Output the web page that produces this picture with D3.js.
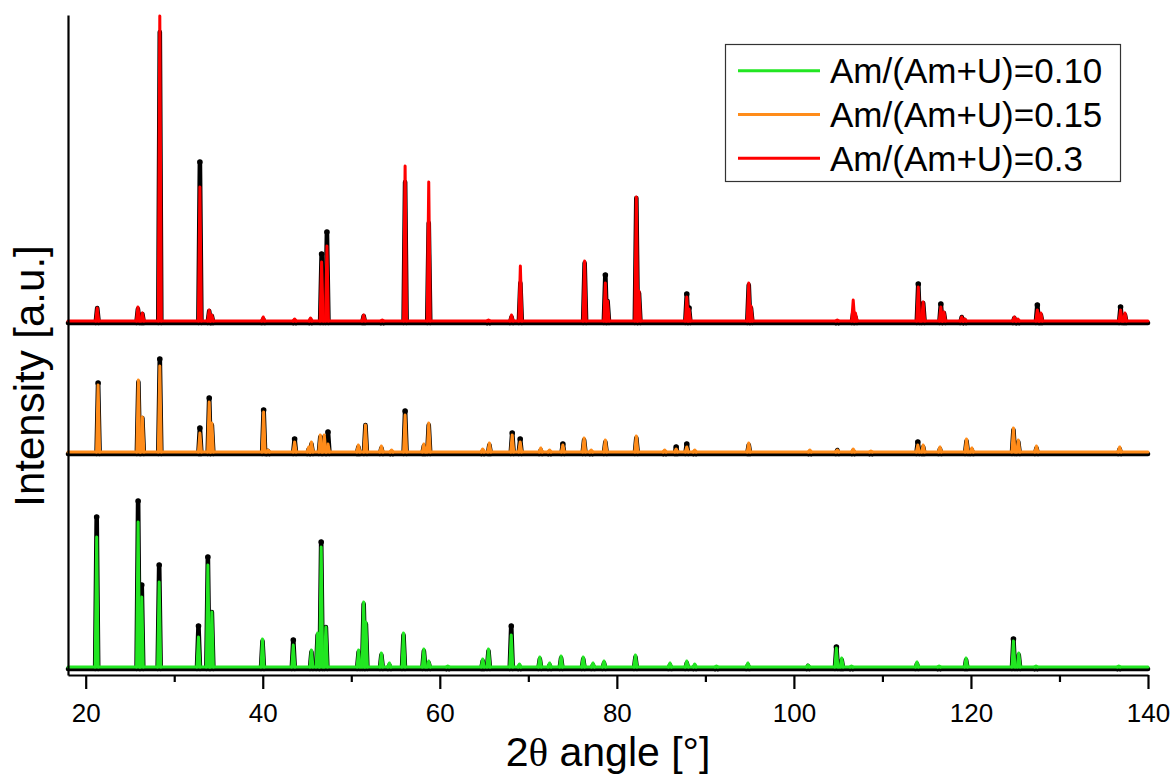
<!DOCTYPE html>
<html><head><meta charset="utf-8">
<script src="https://cdn.jsdelivr.net/npm/d3@7"></script>
<style>body{margin:0;background:#fff}svg{display:block}</style>
</head><body><svg id="c" width="1172" height="775"></svg>
<script>
// ---------------- data ----------------
const seriesNames = ["Am/(Am+U)=0.10", "Am/(Am+U)=0.15", "Am/(Am+U)=0.3"];
const xTicks = [20, 40, 60, 80, 100, 120, 140];
const xMinorTicks = [30, 50, 70, 90, 110, 130];
// vertical offsets of each pattern (a.u.)
const calcBase = [8, 223, 354];
const obsBase = [6, 221, 352];
// peaks: [2theta, calculated height, observed height] above the baseline (a.u.)
const peaks010 = [
  [21.24,130,152],[25.92,145,168],[26.33,70,84],[28.3,85,104],[32.74,30,43],[33.8,102,112],[34.25,55,57],
  [39.97,28,28],[43.45,22,29],[45.5,17,17],[46.2,34,34],[46.6,120,127],[47.13,40,42],[50.83,17,17],
  [51.4,65,65],[51.65,45,45],[53.4,14,14],[54.3,4,4],[55.9,34,34],[58.2,18,18],[58.75,6,6],[60.9,1,1],
  [64.85,8,8],[65.5,18,18],[68.07,32,43],[69.0,3,3],[71.3,10,10],[72.4,4,4],[73.7,11,11],[76.2,10,10],
  [77.3,4,4],[78.55,6,6],[82.1,12,12],[86.0,4,4],[87.9,6,6],[88.8,3,3],[91.25,1,1],[94.8,4,4],
  [101.6,2,3],[104.8,19,22],[105.4,9,9],[106.5,1,1],[113.9,5,5],[116.4,1,1],[119.45,9,9],
  [124.8,26,30],[125.4,14,14],[127.35,1,1],[136.7,1,1]
];
const peaks015 = [
  [21.4,67,71],[25.95,72,72],[26.4,35,36],[28.37,86,95],[32.9,19,26],[33.95,50,56],[34.25,29,29],
  [40.1,40,44],[40.6,2,3],[43.6,10,15],[45.2,5,5],[45.5,10,10],[46.5,17,17],[46.95,17,17],[47.37,8,22],
  [50.8,7,7],[51.6,27,29],[53.4,6,6],[54.55,2,2],[56.08,37,43],[58.2,8,8],[58.75,29,29],
  [64.85,3,3],[65.6,9,9],[68.18,17,21],[69.08,10,15],[71.4,4,4],[72.4,2,2],[73.9,7,10],[76.3,14,14],
  [77.1,2,2],[78.7,12,12],[82.2,16,16],[85.4,2,2],[86.7,3,7],[87.9,5,10],[88.8,2,2],[94.9,9,9],
  [101.8,2,2],[104.9,2,4],[106.7,3,3],[108.7,1,1],[114.0,7,12],[114.6,7,7],[116.5,5,5],[119.5,13,13],
  [120.1,4,4],[124.8,24,24],[125.35,12,12],[127.4,6,6],[136.8,5,5]
];
const peaks030 = [
  [21.3,13,15],[25.9,14,14],[26.4,8,9],[28.37,305,291],[32.9,134,161],[33.95,11,12],[34.25,6,7],
  [40.05,4,4],[43.6,2,2],[45.4,3,3],[46.65,59,69],[47.25,75,91],[51.4,6,7],[53.5,1,1],
  [56.08,155,141],[58.75,139,100],[65.5,1,1],[68.1,6,6],[69.1,55,40],[76.36,60,60],[78.7,38,48],
  [78.95,20,22],[82.2,124,125],[82.5,30,30],[87.9,24,29],[88.15,12,15],[94.9,38,38],[95.15,15,15],
  [104.9,1,1],[106.7,21,10],[106.95,8,6],[114.05,34,39],[114.6,19,20],[116.6,14,19],[116.95,9,10],
  [118.96,4,6],[119.3,2,3],[124.9,4,5],[125.3,2,2],[127.5,11,18],[127.9,8,8],[136.9,11,16],[137.4,8,8]
];
const seriesPeaks = [peaks010, peaks015, peaks030];

// ---------------- styles ----------------
const colors = ["#22e622", "#ff8c1a", "#ff0000"];
const W = 1172, H = 775;
const svg = d3.select("#c");
svg.append("rect").attr("width", W).attr("height", H).attr("fill", "#fff");

const x = d3.scaleLinear().domain([18, 140]).range([68, 1148]);
const y = d3.scaleLinear().domain([0, 660]).range([675, 15]);
const hw = 0.17; // half base width of a peak in degrees
const line = d3.line().x(d => x(d[0])).y(d => y(d[1]));

const plot = svg.append("g");

function drawSeries(i) {
  const pk = seriesPeaks[i];
  const gS = plot.append("g");
  // observed (black)
  const obsPaths = [[[18, obsBase[i]], [140, obsBase[i]]]].concat(
    pk.map(p => [[p[0] - hw, obsBase[i]], [p[0], obsBase[i] + p[2]], [p[0] + hw, obsBase[i]]]));
  gS.selectAll("path.obs").data(obsPaths).join("path").attr("class", "obs")
    .attr("d", line).attr("fill", "none").attr("stroke", "#000")
    .attr("stroke-width", 4.6).attr("stroke-linejoin", "round").attr("stroke-linecap", "round");
  gS.selectAll("circle.obs").data(pk.filter(p => p[2] > p[1] + 2)).join("circle")
    .attr("class", "obs").attr("cx", d => x(d[0])).attr("cy", d => y(obsBase[i] + d[2]))
    .attr("r", 2.8).attr("fill", "#000");
  // calculated (coloured)
  const calcPaths = [[[18, calcBase[i]], [140, calcBase[i]]]].concat(
    pk.map(p => [[p[0] - hw, calcBase[i]], [p[0], calcBase[i] + p[1]], [p[0] + hw, calcBase[i]]]));
  gS.selectAll("path.calc").data(calcPaths).join("path").attr("class", "calc")
    .attr("d", line).attr("fill", "none").attr("stroke", colors[i])
    .attr("stroke-width", 3).attr("stroke-linejoin", "round").attr("stroke-linecap", "round");
}
[0, 1, 2].forEach(drawSeries);

// ---------------- axes ----------------
const font = "'Liberation Sans', Arial, sans-serif";
const xAxis = d3.axisBottom(x).tickValues(xTicks).tickSize(14).tickSizeOuter(0).tickFormat(d3.format("d"));
const gx = svg.append("g").attr("transform", "translate(0,675)").call(xAxis);
gx.select(".domain").attr("stroke-width", 2.2);
gx.selectAll(".tick line").attr("stroke-width", 2.2);
gx.selectAll(".tick text").attr("y", 47).attr("dy", null)
  .style("font-family", font).style("font-size", "26px").attr("fill", "#000");
const xMinor = d3.axisBottom(x).tickValues(xMinorTicks).tickSize(7).tickSizeOuter(0).tickFormat("");
const gxm = svg.append("g").attr("transform", "translate(0,675)").call(xMinor);
gxm.select(".domain").remove();
gxm.selectAll(".tick line").attr("stroke-width", 2.2);

const yAxis = d3.axisLeft(y).tickValues([]).tickSizeOuter(0);
const gy = svg.append("g").attr("transform", "translate(68,0)").call(yAxis);
gy.select(".domain").attr("stroke-width", 2.2);

// titles
const xt = svg.append("text").attr("x", 608).attr("y", 766).attr("text-anchor", "middle")
  .style("font-family", font).style("font-size", "41px");
xt.append("tspan").text("2");
xt.append("tspan").style("font-family", "'Liberation Serif', 'DejaVu Serif', serif").text("θ");
xt.append("tspan").text(" angle [°]");

svg.append("text").attr("transform", "translate(44,376) rotate(-90)").attr("text-anchor", "middle")
  .style("font-family", font).style("font-size", "42px").text("Intensity [a.u.]");

// ---------------- legend ----------------
const lg = svg.append("g");
lg.append("rect").attr("x", 725.5).attr("y", 44.5).attr("width", 395).attr("height", 137)
  .attr("fill", "#fff").attr("stroke", "#333").attr("stroke-width", 1.2);
const legendRows = d3.scaleBand().domain([0, 1, 2]).range([49, 180]);
[0, 1, 2].forEach(i => {
  const cy = legendRows(i) + legendRows.bandwidth() / 2;
  lg.append("line").attr("x1", 738).attr("x2", 820).attr("y1", cy).attr("y2", cy)
    .attr("stroke", colors[i]).attr("stroke-width", 3);
  lg.append("text").attr("x", 830).attr("y", cy + 12.5)
    .style("font-family", font).style("font-size", "35px").text(seriesNames[i]);
});
</script></body></html>
